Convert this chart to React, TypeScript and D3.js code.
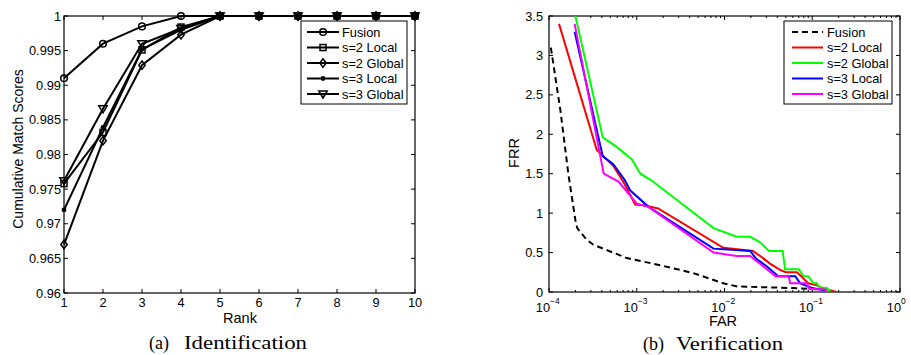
import { useEffect, useRef } from 'react';
import * as d3 from 'd3';

// (a) Identification: cumulative match scores by rank
const RANKS = [1, 2, 3, 4, 5, 6, 7, 8, 9, 10];
const FUSION_CMS = [0.991, 0.996, 0.9985, 1, 1, 1, 1, 1, 1, 1];
const S2_LOCAL_CMS = [0.9758, 0.9832, 0.9951, 0.9984, 1, 1, 1, 1, 1, 1];
const S2_GLOBAL_CMS = [0.967, 0.982, 0.9929, 0.9973, 1, 1, 1, 1, 1, 1];
const S3_LOCAL_CMS = [0.972, 0.9839, 0.9952, 0.998, 1, 1, 1, 1, 1, 1];
const S3_GLOBAL_CMS = [0.9762, 0.9866, 0.996, 0.9982, 1, 1, 1, 1, 1, 1];
const CMS_TICKS = [0.96, 0.965, 0.97, 0.975, 0.98, 0.985, 0.99, 0.995, 1];
const CMS_TICK_LABELS = ['0.96', '0.965', '0.97', '0.975', '0.98', '0.985', '0.99', '0.995', '1'];

// (b) Verification: FRR against FAR
const FUSION_FAR = [1.05e-4, 1.35e-4, 1.67e-4, 2.0e-4, 2.1e-4, 2.7e-4, 3.2e-4, 7.7e-4, 1.85e-3, 4.4e-3, 9.7e-3, 1.4e-2, 6e-2, 1.5e-1];
const FUSION_FRR = [3.1, 2.3, 1.48, 0.91, 0.81, 0.66, 0.6, 0.43, 0.34, 0.24, 0.11, 0.07, 0.05, 0.03];
const S2_LOCAL_FAR = [1.3e-4, 3.5e-4, 4.2e-4, 5.4e-4, 7.0e-4, 9.6e-4, 1.2e-3, 1.75e-3, 9.7e-3, 2.1e-2, 2.6e-2, 3.3e-2, 4.3e-2, 5e-2, 6.7e-2, 7.5e-2, 9e-2, 1.1e-1, 1.3e-1, 1.5e-1, 1.9e-1];
const S2_LOCAL_FRR = [3.4, 1.8, 1.72, 1.6, 1.4, 1.11, 1.1, 1.06, 0.56, 0.52, 0.45, 0.36, 0.28, 0.25, 0.25, 0.2, 0.11, 0.09, 0.05, 0.03, 0.0];
const S2_GLOBAL_FAR = [2.0e-4, 4.1e-4, 5.9e-4, 8.8e-4, 1.1e-3, 1.45e-3, 7.5e-3, 1.38e-2, 1.96e-2, 2.55e-2, 3.2e-2, 4.6e-2, 4.9e-2, 7e-2, 8e-2, 9e-2, 1.03e-1, 1.13e-1, 1.2e-1, 1.47e-1, 1.6e-1];
const S2_GLOBAL_FRR = [3.5, 1.96, 1.84, 1.68, 1.5, 1.42, 0.81, 0.7, 0.7, 0.63, 0.52, 0.52, 0.29, 0.29, 0.2, 0.2, 0.11, 0.11, 0.06, 0.05, 0.01];
const S3_LOCAL_FAR = [1.96e-4, 4.1e-4, 5.4e-4, 7.3e-4, 8.4e-4, 1.36e-3, 7.5e-3, 1.96e-2, 2.3e-2, 3e-2, 4.1e-2, 6.4e-2, 7.3e-2, 1.0e-1, 1.4e-1];
const S3_LOCAL_FRR = [3.3, 1.72, 1.62, 1.42, 1.29, 1.08, 0.55, 0.52, 0.42, 0.33, 0.2, 0.2, 0.11, 0.05, 0.02];
const S3_GLOBAL_FAR = [1.96e-4, 4.2e-4, 6.2e-4, 1.0e-3, 1.36e-3, 7.5e-3, 1.38e-2, 1.96e-2, 2.67e-2, 3.8e-2, 5.4e-2, 5.6e-2, 8.7e-2, 9.2e-2, 1.47e-1];
const S3_GLOBAL_FRR = [3.4, 1.5, 1.4, 1.12, 1.08, 0.5, 0.456, 0.456, 0.34, 0.2, 0.2, 0.11, 0.11, 0.04, 0.03];
const FRR_TICKS = [0, 0.5, 1, 1.5, 2, 2.5, 3, 3.5];
const FRR_TICK_LABELS = ['0', '0.5', '1', '1.5', '2', '2.5', '3', '3.5'];
const FAR_EXPONENTS = [-4, -3, -2, -1, 0];

const SANS = '"Liberation Sans", Arial, Helvetica, sans-serif';
const SERIF = '"Liberation Serif", "Times New Roman", serif';

type Marker = 'circle' | 'square' | 'diamond' | 'dot' | 'triangle';

const ID_SERIES: { label: string; values: number[]; marker: Marker }[] = [
  { label: 'Fusion', values: FUSION_CMS, marker: 'circle' },
  { label: 's=2 Local', values: S2_LOCAL_CMS, marker: 'square' },
  { label: 's=2 Global', values: S2_GLOBAL_CMS, marker: 'diamond' },
  { label: 's=3 Local', values: S3_LOCAL_CMS, marker: 'dot' },
  { label: 's=3 Global', values: S3_GLOBAL_CMS, marker: 'triangle' },
];

const VER_SERIES = [
  { label: 'Fusion', far: FUSION_FAR, frr: FUSION_FRR, color: '#000000', dash: '6,4' },
  { label: 's=2 Local', far: S2_LOCAL_FAR, frr: S2_LOCAL_FRR, color: '#ff0000', dash: null },
  { label: 's=2 Global', far: S2_GLOBAL_FAR, frr: S2_GLOBAL_FRR, color: '#00ff00', dash: null },
  { label: 's=3 Local', far: S3_LOCAL_FAR, frr: S3_LOCAL_FRR, color: '#0000ff', dash: null },
  { label: 's=3 Global', far: S3_GLOBAL_FAR, frr: S3_GLOBAL_FRR, color: '#ff00ff', dash: null },
];

// MATLAB-style markers: outline only, no face colour
function drawMarker(g: any, type: Marker, x: number, y: number) {
  const common = (s: any) => s.attr('stroke', '#000').attr('stroke-width', 1.5).attr('fill', 'none');
  if (type === 'circle') {
    common(g.append('circle').attr('cx', x).attr('cy', y).attr('r', 3.3));
  } else if (type === 'square') {
    common(g.append('rect').attr('x', x - 3).attr('y', y - 3).attr('width', 6).attr('height', 6));
  } else if (type === 'diamond') {
    common(g.append('path').attr('d', `M${x},${y - 4.2}L${x + 3.2},${y}L${x},${y + 4.2}L${x - 3.2},${y}Z`));
  } else if (type === 'dot') {
    g.append('circle').attr('cx', x).attr('cy', y).attr('r', 2.4).attr('fill', '#000');
  } else {
    common(g.append('path').attr('d', `M${x - 4.2},${y - 3}L${x + 4.2},${y - 3}L${x},${y + 4}Z`));
  }
}

export default function App() {
  const svgRef = useRef<SVGSVGElement>(null);

  useEffect(() => {
    if (!svgRef.current) return;
    const svg = d3.select(svgRef.current);
    svg.selectAll('*').remove();

    // ---------- (a) Identification ----------
    const a = { left: 64, right: 415, top: 16, bottom: 293 };
    const xA = d3.scaleLinear().domain([1, 10]).range([a.left, a.right]);
    const yA = d3.scaleLinear().domain([0.96, 1]).range([a.bottom, a.top]);
    const gA = svg.append('g');

    gA.append('rect')
      .attr('x', a.left).attr('y', a.top)
      .attr('width', a.right - a.left).attr('height', a.bottom - a.top)
      .attr('fill', 'white').attr('stroke', '#000').attr('stroke-width', 1.2);

    // ticks inward on all four sides
    RANKS.forEach((r) => {
      const x = xA(r);
      gA.append('line').attr('x1', x).attr('x2', x).attr('y1', a.bottom).attr('y2', a.bottom - 4).attr('stroke', '#000');
      gA.append('line').attr('x1', x).attr('x2', x).attr('y1', a.top).attr('y2', a.top + 4).attr('stroke', '#000');
      gA.append('text').attr('x', x).attr('y', 307)
        .attr('text-anchor', 'middle').attr('font-family', SANS).attr('font-size', 12.8)
        .text(String(r));
    });
    CMS_TICKS.forEach((t, i) => {
      const y = yA(t);
      gA.append('line').attr('x1', a.left).attr('x2', a.left + 4).attr('y1', y).attr('y2', y).attr('stroke', '#000');
      gA.append('line').attr('x1', a.right).attr('x2', a.right - 4).attr('y1', y).attr('y2', y).attr('stroke', '#000');
      gA.append('text').attr('x', 61).attr('y', y + 4.5)
        .attr('text-anchor', 'end').attr('font-family', SANS).attr('font-size', 12.8)
        .text(CMS_TICK_LABELS[i]);
    });

    const lineA = d3.line<number>().x((_, i) => xA(RANKS[i])).y((v) => yA(v));
    ID_SERIES.forEach((s) => {
      gA.append('path').attr('d', lineA(s.values))
        .attr('fill', 'none').attr('stroke', '#000').attr('stroke-width', 2);
      s.values.forEach((v, i) => drawMarker(gA, s.marker, xA(RANKS[i]), yA(v)));
    });

    gA.append('text').attr('x', 240).attr('y', 323)
      .attr('text-anchor', 'middle').attr('font-family', SANS).attr('font-size', 14.5)
      .text('Rank');
    gA.append('text')
      .attr('transform', 'translate(23,149) rotate(-90)')
      .attr('text-anchor', 'middle').attr('font-family', SANS).attr('font-size', 14)
      .text('Cumulative Match Scores');

    // legend
    const legA = gA.append('g');
    legA.append('rect').attr('x', 301).attr('y', 21).attr('width', 106).attr('height', 83)
      .attr('fill', 'white').attr('stroke', '#000').attr('stroke-width', 1);
    ID_SERIES.forEach((s, i) => {
      const y = 32 + i * 15.5;
      legA.append('line').attr('x1', 307).attr('x2', 339).attr('y1', y).attr('y2', y)
        .attr('stroke', '#000').attr('stroke-width', 2);
      drawMarker(legA, s.marker, 323, y);
      legA.append('text').attr('x', 342).attr('y', y + 4.5)
        .attr('font-family', SANS).attr('font-size', 12.8).text(s.label);
    });

    // ---------- (b) Verification ----------
    const b = { left: 549, right: 900, top: 16, bottom: 292 };
    const xB = d3.scaleLog().domain([1e-4, 1]).range([b.left, b.right]);
    const yB = d3.scaleLinear().domain([0, 3.5]).range([b.bottom, b.top]);
    const gB = svg.append('g');

    gB.append('rect')
      .attr('x', b.left).attr('y', b.top)
      .attr('width', b.right - b.left).attr('height', b.bottom - b.top)
      .attr('fill', 'white').attr('stroke', '#000').attr('stroke-width', 1.2);

    FAR_EXPONENTS.forEach((e) => {
      const x = xB(Math.pow(10, e));
      gB.append('line').attr('x1', x).attr('x2', x).attr('y1', b.bottom).attr('y2', b.bottom - 4).attr('stroke', '#000');
      gB.append('line').attr('x1', x).attr('x2', x).attr('y1', b.top).attr('y2', b.top + 4).attr('stroke', '#000');
      gB.append('text').attr('x', x + 1).attr('y', 311.5)
        .attr('text-anchor', 'end').attr('font-family', SANS).attr('font-size', 12.8)
        .text('10');
      gB.append('text').attr('x', x + 1).attr('y', 303.5)
        .attr('font-family', SANS).attr('font-size', 8.5)
        .text(String(e).replace('-', '\u2212'));
      if (e < 0) {
        for (let k = 2; k <= 9; k++) {
          const xm = xB(k * Math.pow(10, e));
          gB.append('line').attr('x1', xm).attr('x2', xm).attr('y1', b.bottom).attr('y2', b.bottom - 2).attr('stroke', '#000');
          gB.append('line').attr('x1', xm).attr('x2', xm).attr('y1', b.top).attr('y2', b.top + 2).attr('stroke', '#000');
        }
      }
    });
    FRR_TICKS.forEach((t, i) => {
      const y = yB(t);
      gB.append('line').attr('x1', b.left).attr('x2', b.left + 4).attr('y1', y).attr('y2', y).attr('stroke', '#000');
      gB.append('line').attr('x1', b.right).attr('x2', b.right - 4).attr('y1', y).attr('y2', y).attr('stroke', '#000');
      gB.append('text').attr('x', 543).attr('y', y + 4.5)
        .attr('text-anchor', 'end').attr('font-family', SANS).attr('font-size', 12.8)
        .text(FRR_TICK_LABELS[i]);
    });

    svg.append('defs').append('clipPath').attr('id', 'clip-b')
      .append('rect').attr('x', b.left).attr('y', b.top)
      .attr('width', b.right - b.left).attr('height', b.bottom - b.top);

    const plotB = gB.append('g').attr('clip-path', 'url(#clip-b)');
    VER_SERIES.forEach((s) => {
      const pts = s.far.map((f, i) => [f, s.frr[i]] as [number, number]);
      const line = d3.line<[number, number]>().x((d) => xB(d[0])).y((d) => yB(d[1]));
      const p = plotB.append('path').attr('d', line(pts))
        .attr('fill', 'none').attr('stroke', s.color).attr('stroke-width', 2);
      if (s.dash) p.attr('stroke-dasharray', s.dash);
    });

    gB.append('text').attr('x', 723).attr('y', 326)
      .attr('text-anchor', 'middle').attr('font-family', SANS).attr('font-size', 14.5)
      .text('FAR');
    gB.append('text')
      .attr('transform', 'translate(519,153) rotate(-90)')
      .attr('text-anchor', 'middle').attr('font-family', SANS).attr('font-size', 14.5)
      .text('FRR');

    const legB = gB.append('g');
    legB.append('rect').attr('x', 784).attr('y', 21).attr('width', 108).attr('height', 83)
      .attr('fill', 'white').attr('stroke', '#000').attr('stroke-width', 1);
    VER_SERIES.forEach((s, i) => {
      const y = 32 + i * 15.5;
      const l = legB.append('line').attr('x1', 792).attr('x2', 823).attr('y1', y).attr('y2', y)
        .attr('stroke', s.color).attr('stroke-width', 2);
      if (s.dash) l.attr('stroke-dasharray', s.dash);
      legB.append('text').attr('x', 827).attr('y', y + 4.5)
        .attr('font-family', SANS).attr('font-size', 12.8).text(s.label);
    });

    // ---------- captions ----------
    svg.append('text').attr('x', 149).attr('y', 349)
      .attr('font-family', SERIF).attr('font-size', 18).text('(a)');
    svg.append('text').attr('x', 184).attr('y', 349)
      .attr('font-family', SERIF).attr('font-size', 18)
      .attr('textLength', 123).attr('lengthAdjust', 'spacingAndGlyphs')
      .text('Identification');
    svg.append('text').attr('x', 643).attr('y', 350)
      .attr('font-family', SERIF).attr('font-size', 18).text('(b)');
    svg.append('text').attr('x', 676).attr('y', 350)
      .attr('font-family', SERIF).attr('font-size', 18)
      .attr('textLength', 107).attr('lengthAdjust', 'spacingAndGlyphs')
      .text('Verification');
  }, []);

  return (
    <svg
      ref={svgRef}
      width={911}
      height={355}
      style={{ position: 'absolute', left: 0, top: 0, background: 'white' }}
    />
  );
}
